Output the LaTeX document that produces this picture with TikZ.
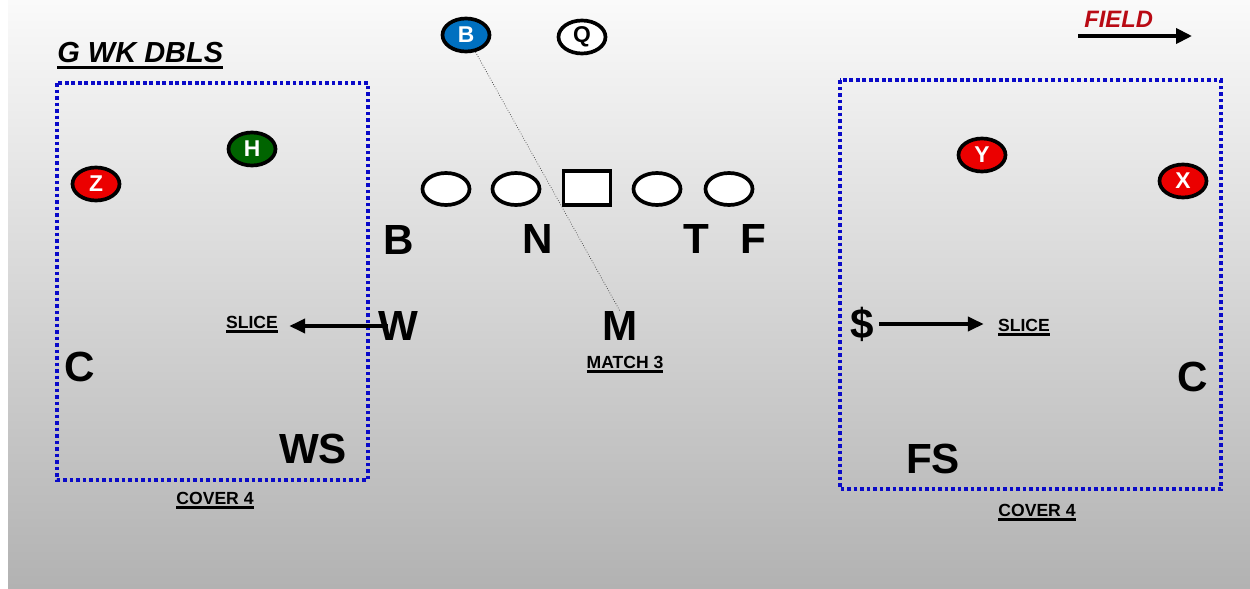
\documentclass[tikz,border=0pt]{standalone}
\usepackage{fontspec}
\setmainfont{Liberation Sans}
\usetikzlibrary{shapes.geometric}
\usetikzlibrary{positioning}
\usetikzlibrary{arrows.meta}

\definecolor{bgtop}{RGB}{250,250,250}
\definecolor{bgbot}{RGB}{178,178,178}
\definecolor{zoneblue}{RGB}{10,10,200}
\definecolor{fieldred}{RGB}{185,10,20}
\definecolor{backblue}{RGB}{0,112,192}
\definecolor{hgreen}{RGB}{0,100,0}
\definecolor{recred}{RGB}{235,0,0}

\newcommand{\ultext}[2]{\vtop{\hbox{#2}\kern1.3pt\hrule height #1}}

\begin{document}
\begin{tikzpicture}[x=0.02cm,y=-0.02cm,
  player/.style={ellipse,draw,line width=2.1pt,minimum width=0.94cm,minimum height=0.66cm,inner sep=0pt,font=\fontsize{13}{13}\selectfont\bfseries},
  lineman/.style={ellipse,draw,fill=white,line width=2.1pt,minimum width=0.94cm,minimum height=0.64cm,inner sep=0pt},
  snapper/.style={rectangle,draw,fill=white,line width=2.1pt,minimum width=0.94cm,minimum height=0.68cm,inner sep=0pt},
  defender/.style={inner sep=0pt,font=\fontsize{24}{24}\selectfont\bfseries},
  tag/.style={anchor=base,inner sep=0pt,font=\fontsize{10}{10}\selectfont\bfseries},
  zone/.style={draw=zoneblue,line width=1.8pt,dash pattern=on 2.2pt off 1.5pt},
  slicearrow/.style={line width=2.2pt,-{Triangle[length=0.32cm,width=0.28cm]}},
]
\useasboundingbox (0,0) rectangle (1250,588);
\fill[white] (0,0) rectangle (1250,588);
\shade[top color=bgtop,bottom color=bgbot] (8,0) rectangle (1250,588);

% title and field direction
\node[anchor=base west,inner sep=0pt,font=\fontsize{16.5}{16}\selectfont\bfseries\itshape] (title) at (57,63) {\ultext{2pt}{G WK DBLS}};
\node[anchor=base west,inner sep=0pt,text=fieldred,font=\fontsize{13.5}{14}\selectfont\bfseries\itshape] (field) at (1084,28) {FIELD};
\coordinate (fieldtail) at (1078,36);
\coordinate (fieldhead) at (1192,36);
\draw[line width=2.2pt,-{Triangle[length=0.32cm,width=0.3cm]}] (fieldtail) -- (fieldhead);

% zones
\draw[zone] (57,83) rectangle (368,480);
\draw[zone] (840,80) rectangle (1221,489);

% offense
\node[player,fill=backblue,text=white] (Bk) at (466,35) {B};
\node[player,fill=white] (Q) at (582,37) {Q};
\node[player,fill=hgreen,text=white] (H) at (252,149) {H};
\node[player,fill=recred,text=white] (Z) at (96,184) {Z};
\node[player,fill=recred,text=white] (Y) at (982,155) {Y};
\node[player,fill=recred,text=white] (X) at (1183,181) {X};
\foreach \x/\n in {446/lt,516/lg,657/rg,729/rt}
  \node[lineman] (\n) at (\x,189) {};
\node[snapper] (ce) at (587,188) {};

% defense
\node[defender] (buck) at (399,240) {B};
\node[defender] (nose) at (538,239) {N};
\node[defender] (tackle) at (696,239) {T};
\node[defender] (fend) at (753,239) {F};
\node[defender] (will) at (398,326) {W};
\node[defender] (mike) at (620,326) {M};
\node[defender] (cornerL) at (80,367) {C};
\node[defender] (cornerR) at (1193,377) {C};
\node[defender] (wsafety) at (313,449) {WS};
\node[defender] (fsafety) at (933,459) {FS};
\node[defender] (star) at (862,324) {\$};

% calls
\node[tag] (sliceL) at (252,328) {\ultext{1.2pt}{SLICE}};
\node[tag] (sliceR) at (1024,331) {\ultext{1.2pt}{SLICE}};
\node[tag] (match) at (625,368) {\ultext{1.2pt}{MATCH 3}};
\node[tag] (coverL) at (215,504) {\ultext{1.2pt}{COVER 4}};
\node[tag] (coverR) at (1037,516) {\ultext{1.2pt}{COVER 4}};

\draw[black!75,line width=0.4pt,densely dotted] (Bk) -- (mike.north);
\draw[slicearrow,shorten <=-0.2cm,shorten >=0.22cm] (will.west) -- (will.west -| sliceL.east);
\draw[slicearrow,shorten <=0.1cm,shorten >=0.28cm] (star.east) -- (star.east -| sliceR.west);

\end{tikzpicture}
\end{document}
